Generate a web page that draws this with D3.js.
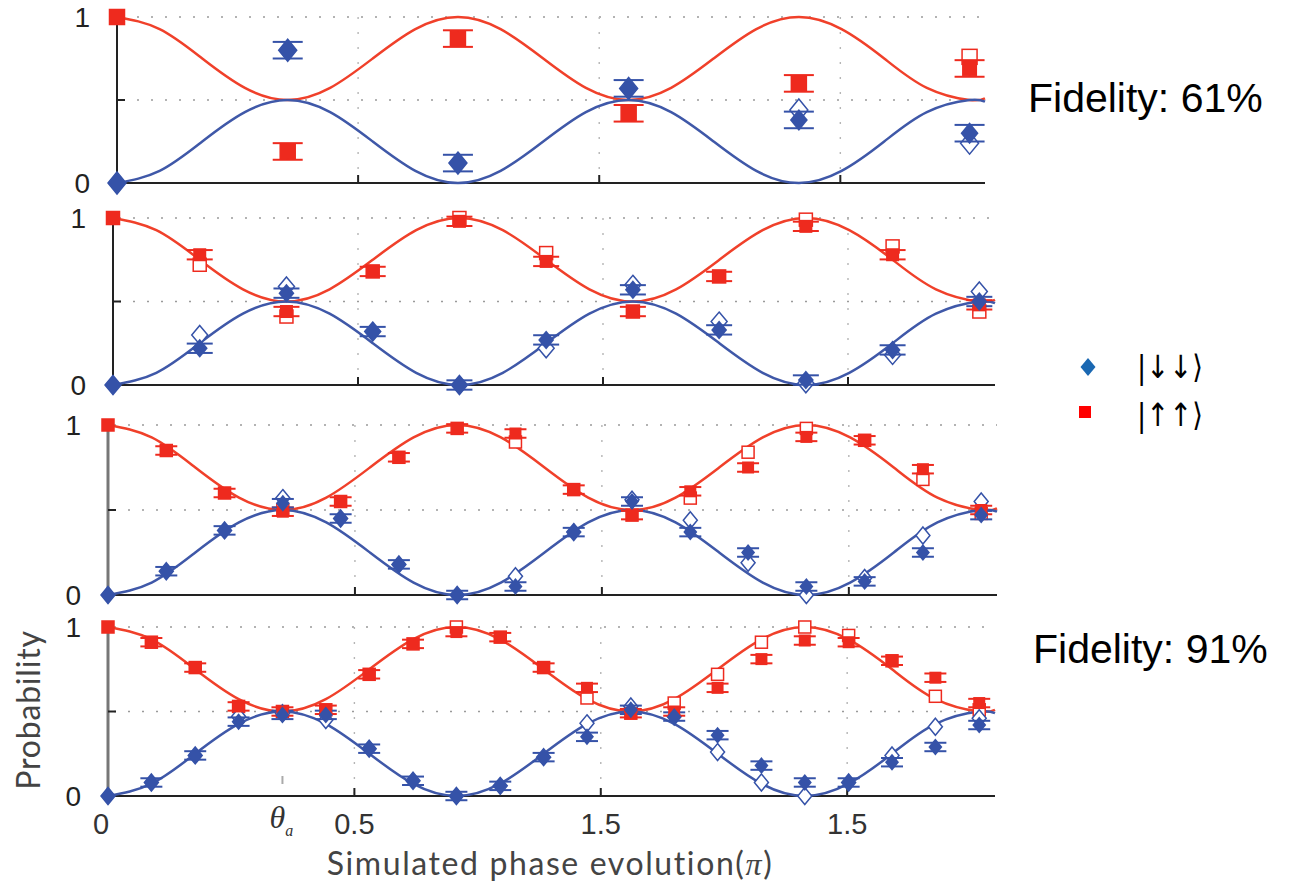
<!DOCTYPE html>
<html>
<head>
<meta charset="utf-8">
<script src="https://cdn.jsdelivr.net/npm/d3@7"></script>
<style>
    body { margin: 0; background: #fff; }
    svg { display: block; }
</style>
</head>
<body>
<div id="chart"></div>
<script>
// theory curves
var theoryX = [0, 0.0884, 0.1768, 0.2652, 0.3536, 0.442, 0.5303, 0.6187, 0.7071, 0.7955, 0.8839,
    0.9723, 1.0607, 1.1491, 1.2374, 1.3258, 1.4142, 1.5026, 1.591, 1.6794, 1.7678, 1.8];
var theoryBlue = [0, 0.073, 0.25, 0.427, 0.5, 0.427, 0.25, 0.073, 0, 0.073, 0.25,
    0.427, 0.5, 0.427, 0.25, 0.073, 0, 0.073, 0.25, 0.427, 0.5, 0.49];
var theoryRed = [1, 0.927, 0.75, 0.573, 0.5, 0.573, 0.75, 0.927, 1, 0.927, 0.75,
    0.573, 0.5, 0.573, 0.75, 0.927, 1, 0.927, 0.75, 0.573, 0.5, 0.51];

// panel 1 (fidelity 61%)
var x1 = [0, 0.354, 0.707, 1.061, 1.414, 1.768];
var red1 = [1.0, 0.19, 0.87, 0.42, 0.60, 0.69];
var redOpen1 = [1.0, 0.19, 0.87, 0.42, 0.60, 0.76];
var blue1 = [0.0, 0.80, 0.12, 0.57, 0.38, 0.30];
var blueOpen1 = [0.0, 0.80, 0.12, 0.57, 0.44, 0.24];

// panel 2
var x2 = [0, 0.177, 0.354, 0.530, 0.707, 0.884, 1.061, 1.237, 1.414, 1.591, 1.768];
var red2 = [1.0, 0.78, 0.44, 0.68, 0.98, 0.74, 0.44, 0.65, 0.95, 0.78, 0.48];
var redOpen2 = [1.0, 0.72, 0.41, 0.68, 1.0, 0.79, 0.44, 0.65, 0.99, 0.83, 0.44];
var blue2 = [0.0, 0.22, 0.55, 0.32, 0.0, 0.27, 0.57, 0.33, 0.03, 0.21, 0.50];
var blueOpen2 = [0.0, 0.30, 0.59, 0.32, 0.0, 0.22, 0.60, 0.38, 0.01, 0.18, 0.56];

// panel 3
var x3 = [0, 0.118, 0.236, 0.354, 0.471, 0.589, 0.707, 0.825, 0.943, 1.061, 1.179,
    1.296, 1.414, 1.532, 1.650, 1.768];
var red3 = [1.0, 0.85, 0.60, 0.49, 0.55, 0.81, 0.98, 0.95, 0.62, 0.47, 0.61, 0.75, 0.93, 0.91, 0.74, 0.50];
var redOpen3 = [1.0, 0.85, 0.60, 0.50, 0.55, 0.81, 0.98, 0.90, 0.62, 0.47, 0.57, 0.84, 0.98, 0.91, 0.68, 0.48];
var blue3 = [0.0, 0.14, 0.38, 0.54, 0.45, 0.18, 0.0, 0.05, 0.37, 0.55, 0.37, 0.25, 0.05, 0.08, 0.25, 0.47];
var blueOpen3 = [0.0, 0.14, 0.38, 0.57, 0.45, 0.18, 0.0, 0.11, 0.37, 0.56, 0.44, 0.19, 0.0, 0.10, 0.35, 0.55];

// panel 4 (fidelity 91%)
var x4 = [0, 0.088, 0.177, 0.265, 0.354, 0.442, 0.530, 0.619, 0.707, 0.796, 0.884,
    0.972, 1.061, 1.149, 1.237, 1.326, 1.414, 1.503, 1.591, 1.679, 1.768];
var red4 = [1.0, 0.91, 0.76, 0.53, 0.50, 0.51, 0.72, 0.90, 0.97, 0.94, 0.76, 0.64, 0.49, 0.50, 0.64, 0.81, 0.92, 0.91, 0.80, 0.70, 0.55];
var redOpen4 = [1.0, 0.91, 0.76, 0.53, 0.50, 0.51, 0.72, 0.90, 1.0, 0.94, 0.76, 0.58, 0.49, 0.55, 0.72, 0.91, 1.0, 0.95, 0.80, 0.59, 0.51];
var blue4 = [0.0, 0.08, 0.24, 0.44, 0.48, 0.48, 0.28, 0.09, 0.0, 0.06, 0.23, 0.35, 0.51, 0.47, 0.36, 0.18, 0.08, 0.08, 0.20, 0.29, 0.42];
var blueOpen4 = [0.0, 0.08, 0.24, 0.47, 0.49, 0.45, 0.28, 0.09, 0.0, 0.06, 0.23, 0.43, 0.53, 0.47, 0.26, 0.08, 0.0, 0.08, 0.24, 0.41, 0.46];

// axis labels as printed in the figure
var xTickValues = [0, 0.5, 1, 1.5];
var xTickLabels = ["0", "0.5", "1.5", "1.5"];
var thetaA = 0.354;
var fidelityLabels = ["Fidelity: 61%", "Fidelity: 91%"];
var legendLabels = ["|\u2193\u2193\u27E9", "|\u2191\u2191\u27E9"];

var width = 1291, height = 883;
var BLUE = "#3552a8", RED = "#ee2a1e";
var BLUE_LINE = "#3f58a8", RED_LINE = "#f0402a";

var panels = [
    {x: x1, red: red1, redOpen: redOpen1, blue: blue1, blueOpen: blueOpen1,
        left: 117, right: 985, top: 17, bottom: 183, err: 0.05, dh: 22, dw: 18, sq: 15, cap: 30, axis: "#222"},
    {x: x2, red: red2, redOpen: redOpen2, blue: blue2, blueOpen: blueOpen2,
        left: 113, right: 995, top: 218, bottom: 385, err: 0.028, dh: 19, dw: 16, sq: 13, cap: 26, axis: "#222"},
    {x: x3, red: red3, redOpen: redOpen3, blue: blue3, blueOpen: blueOpen3,
        left: 108, right: 997, top: 425, bottom: 595, err: 0.025, dh: 17, dw: 14, sq: 12, cap: 22, axis: "#777"},
    {x: x4, red: red4, redOpen: redOpen4, blue: blue4, blueOpen: blueOpen4,
        left: 108, right: 995, top: 627, bottom: 796, err: 0.025, dh: 17, dw: 14, sq: 12, cap: 22, axis: "#777"}
];

var svg = d3.select("#chart").append("svg")
    .attr("width", width)
    .attr("height", height);

function diamondPath(cx, cy, w, h) {
    return "M" + cx + "," + (cy - h / 2) + " L" + (cx + w / 2) + "," + cy +
        " L" + cx + "," + (cy + h / 2) + " L" + (cx - w / 2) + "," + cy + " Z";
}

function drawPanel(p, idx) {
    var x = d3.scaleLinear().domain([0, 1.8]).range([p.left, p.right]);
    var y = d3.scaleLinear().domain([0, 1]).range([p.bottom, p.top]);
    var g = svg.append("g").attr("class", "panel" + idx);

    //dotted grid
    g.selectAll(".hgrid").data([0.5, 1]).enter().append("line")
        .attr("x1", p.left + 6).attr("x2", p.right)
        .attr("y1", d => y(d)).attr("y2", d => y(d))
        .attr("stroke", "#9a9a9a").attr("stroke-width", 1.6)
        .attr("stroke-dasharray", "2,12");
    g.selectAll(".vgrid").data([0.5, 1, 1.5]).enter().append("line")
        .attr("x1", d => x(d)).attr("x2", d => x(d))
        .attr("y1", p.top).attr("y2", p.bottom)
        .attr("stroke", "#b5b5b5").attr("stroke-width", 1.4)
        .attr("stroke-dasharray", "2,13");

    //axes
    g.append("line")
        .attr("x1", p.left).attr("x2", p.right)
        .attr("y1", y(0)).attr("y2", y(0))
        .attr("stroke", "#222").attr("stroke-width", 2);
    g.append("line")
        .attr("x1", p.left).attr("x2", p.left)
        .attr("y1", y(0)).attr("y2", y(1))
        .attr("stroke", p.axis).attr("stroke-width", p.axis === "#222" ? 2 : 3);
    g.selectAll(".xtick").data([0.5, 1, 1.5]).enter().append("line")
        .attr("x1", d => x(d)).attr("x2", d => x(d))
        .attr("y1", y(0)).attr("y2", y(0) - 8)
        .attr("stroke", "#222").attr("stroke-width", 2);
    g.append("line")
        .attr("x1", p.left).attr("x2", p.left + 8)
        .attr("y1", y(0.5)).attr("y2", y(0.5))
        .attr("stroke", "#222").attr("stroke-width", 2);
    g.selectAll(".ylab").data([0, 1]).enter().append("text")
        .attr("x", p.left - 27)
        .attr("y", d => y(d) + 10)
        .attr("text-anchor", "end")
        .attr("font-family", "Liberation Sans, Arial, sans-serif")
        .attr("font-size", 28)
        .attr("fill", "#222")
        .text(d => d);

    //theory curves
    var line = d3.line()
        .curve(d3.curveNatural)
        .x(d => x(d[0]))
        .y(d => y(d[1]));
    g.append("path")
        .attr("d", line(theoryX.map((v, i) => [v, theoryRed[i]])))
        .attr("fill", "none").attr("stroke", RED_LINE).attr("stroke-width", 2.5);
    g.append("path")
        .attr("d", line(theoryX.map((v, i) => [v, theoryBlue[i]])))
        .attr("fill", "none").attr("stroke", BLUE_LINE).attr("stroke-width", 2.5);

    //open markers (behind)
    g.selectAll(".rOpen").data(p.redOpen).enter().append("rect")
        .attr("x", (d, i) => x(p.x[i]) - p.sq / 2)
        .attr("y", d => y(d) - p.sq / 2)
        .attr("width", p.sq).attr("height", p.sq)
        .attr("fill", "#fff").attr("stroke", RED).attr("stroke-width", 1.5);
    g.selectAll(".bOpen").data(p.blueOpen).enter().append("path")
        .attr("d", (d, i) => diamondPath(x(p.x[i]), y(d), p.dw, p.dh))
        .attr("fill", "#fff").attr("stroke", BLUE).attr("stroke-width", 1.5);

    //error bars
    var series = [[p.red, RED], [p.blue, BLUE]];
    series.forEach(function (s) {
        var vals = s[0], col = s[1];
        vals.forEach(function (v, i) {
            if (i === 0) return;
            var cx = x(p.x[i]);
            [v - p.err, v + p.err].forEach(function (e) {
                g.append("line")
                    .attr("x1", cx - p.cap / 2).attr("x2", cx + p.cap / 2)
                    .attr("y1", y(e)).attr("y2", y(e))
                    .attr("stroke", col).attr("stroke-width", 2);
            });
            g.append("line")
                .attr("x1", cx).attr("x2", cx)
                .attr("y1", y(v - p.err)).attr("y2", y(v + p.err))
                .attr("stroke", col).attr("stroke-width", 2);
        });
    });

    //filled markers
    g.selectAll(".rFill").data(p.red).enter().append("rect")
        .attr("x", (d, i) => x(p.x[i]) - p.sq / 2)
        .attr("y", d => y(d) - p.sq / 2)
        .attr("width", p.sq).attr("height", p.sq)
        .attr("fill", RED);
    g.selectAll(".bFill").data(p.blue).enter().append("path")
        .attr("d", (d, i) => diamondPath(x(p.x[i]), y(d), p.dw, p.dh))
        .attr("fill", BLUE);

    return {x: x, y: y};
}

var scales = panels.map(drawPanel);

// bottom axis labels (last panel)
var last = scales[3];
svg.selectAll(".xlab").data(xTickValues).enter().append("text")
    .attr("x", (d, i) => last.x(d) - (i === 0 ? 7 : 0))
    .attr("y", 834)
    .attr("text-anchor", "middle")
    .attr("font-family", "Liberation Sans, Arial, sans-serif")
    .attr("font-size", 29)
    .attr("fill", "#333")
    .text((d, i) => xTickLabels[i]);

svg.append("line")
    .attr("x1", last.x(thetaA)).attr("x2", last.x(thetaA))
    .attr("y1", 776).attr("y2", 784)
    .attr("stroke", "#aaa").attr("stroke-width", 2);
var theta = svg.append("text")
    .attr("x", last.x(thetaA) - 13)
    .attr("y", 828)
    .attr("font-family", "Liberation Serif, Times New Roman, serif")
    .attr("font-style", "italic")
    .attr("font-size", 32)
    .attr("fill", "#333");
theta.append("tspan").text("\u03B8");
theta.append("tspan").attr("font-size", 16).attr("dy", 8).text("a");

var xTitle = svg.append("text")
    .attr("x", 550)
    .attr("y", 875)
    .attr("text-anchor", "middle")
    .attr("font-family", "Lato, Open Sans, sans-serif")
    .attr("font-size", 32)
    .attr("letter-spacing", 1.6)
    .attr("fill", "#444");
xTitle.append("tspan").text("Simulated phase evolution");
xTitle.append("tspan").text("(");
xTitle.append("tspan")
    .attr("font-family", "Liberation Serif, serif")
    .attr("font-style", "italic").text("\u03C0");
xTitle.append("tspan").text(")");

svg.append("text")
    .attr("transform", "translate(40,710) rotate(-90)")
    .attr("text-anchor", "middle")
    .attr("font-family", "Lato, Open Sans, sans-serif")
    .attr("font-size", 32)
    .attr("letter-spacing", 0.8)
    .attr("fill", "#444")
    .text("Probability");

// fidelity notes
svg.selectAll(".fid").data(fidelityLabels).enter().append("text")
    .attr("x", (d, i) => i === 0 ? 1028 : 1033)
    .attr("y", (d, i) => i === 0 ? 112 : 663)
    .attr("font-family", "Liberation Sans, Arial, sans-serif")
    .attr("font-size", 41)
    .attr("fill", "#000")
    .text(d => d);

// legend
svg.append("path")
    .attr("d", diamondPath(1088, 367, 15, 18))
    .attr("fill", "#1a68b2");
svg.append("rect")
    .attr("x", 1079).attr("y", 406)
    .attr("width", 12).attr("height", 12)
    .attr("fill", "#ff0000");
svg.selectAll(".leg").data(legendLabels).enter().append("text")
    .attr("x", 1137)
    .attr("y", (d, i) => i === 0 ? 378 : 426)
    .attr("font-family", "DejaVu Sans, sans-serif")
    .attr("font-size", 32)
    .attr("fill", "#000")
    .attr("textLength", 66)
    .attr("lengthAdjust", "spacingAndGlyphs")
    .text(d => d);
</script>
</body>
</html>
